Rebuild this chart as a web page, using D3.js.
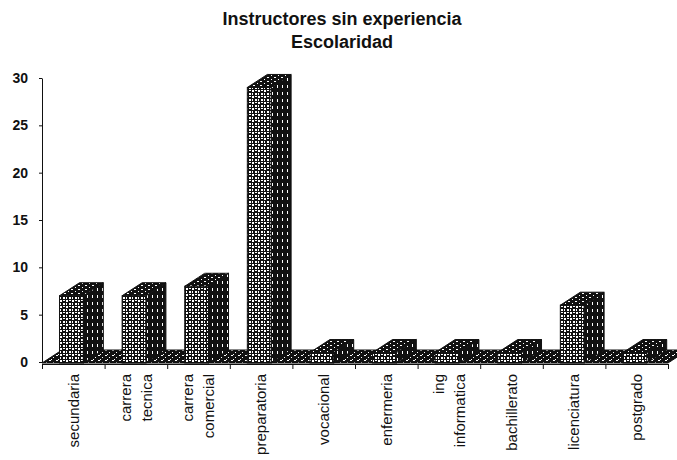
<!DOCTYPE html>
<html>
<head>
<meta charset="utf-8">
<script src="https://cdn.jsdelivr.net/npm/d3@7/dist/d3.min.js"></script>
<style>
  body { margin: 0; background: #fff; }
  svg { display: block; font-family: Arial, "Liberation Sans", sans-serif; }
</style>
</head>
<body>
<div id="chart"></div>
<script>
// data
var categories = [
    ["secundaria"],
    ["carrera", "tecnica"],
    ["carrera", "comercial"],
    ["preparatoria"],
    ["vocacional"],
    ["enfermeria"],
    ["ing", "informatica"],
    ["bachillerato"],
    ["licenciatura"],
    ["postgrado"]
];
var values = [7, 7, 8, 29, 1, 1, 1, 1, 6, 1];
var yTicks = [0, 5, 10, 15, 20, 25, 30];
var titleLines = ["Instructores sin experiencia", "Escolaridad"];

var W = 677, H = 460;
var plotLeft = 42, plotRight = 668, plotTop = 78, plotBase = 362;
var depthX = 20, depthY = 13;

var svg = d3.select("#chart").append("svg")
    .attr("width", W)
    .attr("height", H);

// hatch patterns (scan look)
var defs = svg.append("defs");
function pattern(id, w, h, dots) {
    var p = defs.append("pattern")
        .attr("id", id)
        .attr("patternUnits", "userSpaceOnUse")
        .attr("width", w).attr("height", h);
    p.append("rect").attr("width", w).attr("height", h).attr("fill", "#111");
    dots.forEach(function (d) {
        p.append("rect").attr("x", d[0]).attr("y", d[1])
            .attr("width", d[2]).attr("height", d[3]).attr("fill", "#fff");
    });
}
pattern("pFront", 6, 6, [[0, 0, 2, 2], [3, 0, 2, 1], [0, 3, 1, 2], [3, 3, 2, 2]]);
pattern("pSide", 5, 7, [[2, 1, 1, 3]]);
pattern("pTop", 7, 4, [[1, 1, 2, 1], [5, 3, 1, 1]]);
pattern("pFloor", 7, 5, [[0, 0, 2, 1], [4, 2, 1, 1], [2, 4, 1, 1]]);

var keys = categories.map(function (c) { return c.join(" "); });

var x = d3.scaleBand()
    .domain(keys)
    .range([plotLeft, plotRight])
    .padding(0);

var y = d3.scaleLinear()
    .domain([0, 30])
    .range([plotBase, plotTop]);

// title
svg.append("g").selectAll("text")
    .data(titleLines)
    .enter().append("text")
    .attr("x", 342)
    .attr("y", function (d, i) { return 25 + i * 23; })
    .attr("text-anchor", "middle")
    .attr("font-size", 18)
    .attr("font-weight", "bold")
    .attr("fill", "#111")
    .text(function (d) { return d; });

// floor
var fy = plotBase + 1;
svg.append("path")
    .attr("d", "M" + plotLeft + "," + fy + "L" + plotRight + "," + fy +
        "L" + (plotRight + depthX) + "," + (fy - depthY) +
        "L" + (plotLeft + depthX) + "," + (fy - depthY) + "Z")
    .attr("fill", "url(#pFloor)")
    .attr("stroke", "#111");

// 3d bars
var bw = x.bandwidth() * 0.38;
var bars = svg.append("g").selectAll("g")
    .data(values)
    .enter().append("g");

function bx(d, i) { return x(keys[i]) + x.bandwidth() * 0.28; }

bars.append("path") // side
    .attr("d", function (d, i) {
        var x1 = bx(d, i) + bw, yt = y(d);
        return "M" + x1 + "," + fy + "L" + x1 + "," + yt +
            "L" + (x1 + depthX) + "," + (yt - depthY) +
            "L" + (x1 + depthX) + "," + (fy - depthY) + "Z";
    })
    .attr("fill", "url(#pSide)")
    .attr("stroke", "#111");

bars.append("path") // top
    .attr("d", function (d, i) {
        var x0 = bx(d, i), yt = y(d);
        return "M" + x0 + "," + yt + "L" + (x0 + bw) + "," + yt +
            "L" + (x0 + bw + depthX) + "," + (yt - depthY) +
            "L" + (x0 + depthX) + "," + (yt - depthY) + "Z";
    })
    .attr("fill", "url(#pTop)")
    .attr("stroke", "#111");

bars.append("rect") // front
    .attr("x", bx)
    .attr("y", function (d) { return y(d); })
    .attr("width", bw)
    .attr("height", function (d) { return fy - y(d); })
    .attr("fill", "url(#pFront)")
    .attr("stroke", "#111");

// y axis
var yAxis = svg.append("g")
    .attr("transform", "translate(" + plotLeft + ",0)")
    .call(d3.axisLeft(y).tickValues(yTicks).tickSize(3).tickSizeOuter(0).tickPadding(11));
yAxis.selectAll("text")
    .attr("font-size", 14)
    .attr("font-weight", "bold")
    .attr("fill", "#111")
    .attr("font-family", "Arial, 'Liberation Sans', sans-serif");
yAxis.selectAll("line, path").attr("stroke", "#111");

// x axis with ticks on category boundaries
var xi = d3.scaleLinear().domain([0, keys.length]).range([plotLeft, plotRight]);
var xAxis = svg.append("g")
    .attr("transform", "translate(0," + (plotBase + 2) + ")")
    .call(d3.axisBottom(xi).ticks(keys.length).tickSize(5).tickSizeOuter(0).tickFormat(""));
xAxis.selectAll("line, path").attr("stroke", "#111");

// category labels, rotated
var lab = svg.append("g").selectAll("text")
    .data(categories)
    .enter().append("text")
    .attr("transform", function (d, i) {
        return "translate(" + (x(keys[i]) + x.bandwidth() / 2) + ",374) rotate(-90)";
    })
    .attr("text-anchor", "end")
    .attr("font-size", 15)
    .attr("fill", "#111");

lab.selectAll("tspan")
    .data(function (d) { return d; })
    .enter().append("tspan")
    .attr("x", 0)
    .attr("y", function (d, i, nodes) {
        var n = nodes.length;
        return (i - (n - 1) / 2) * 21;
    })
    .attr("dy", "0.35em")
    .text(function (d) { return d; });
</script>
</body>
</html>
